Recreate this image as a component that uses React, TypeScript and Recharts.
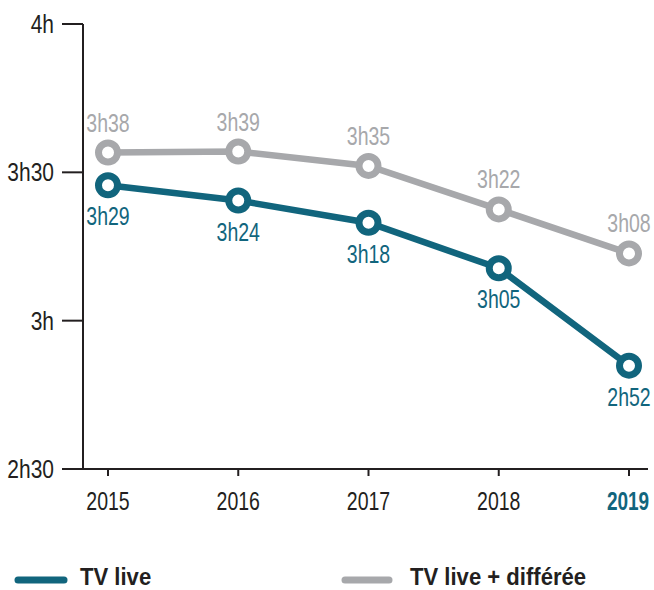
import React from 'react';
import { LineChart, Line, XAxis, YAxis, LabelList } from 'recharts';

const years = ['2015', '2016', '2017', '2018', '2019'];
// minutes per day
const liveMinutes = [207.4, 204.3, 199.8, 190.6, 170.9];
const liveDiffMinutes = [214.0, 214.2, 211.3, 202.5, 193.6];
const liveLabels = ['3h29', '3h24', '3h18', '3h05', '2h52'];
const liveDiffLabels = ['3h38', '3h39', '3h35', '3h22', '3h08'];
const yTicks = [150, 180, 210, 240];
const yTickLabels = ['2h30', '3h', '3h30', '4h'];

const TEAL = '#11657D';
const GREY = '#A7A8AB';
const INK = '#231F20';
const FONT = "'Liberation Sans', Arial, sans-serif";

const data = years.map((year, i) => ({
    year,
    live: liveMinutes[i],
    liveDiff: liveDiffMinutes[i],
    liveLabel: liveLabels[i],
    liveDiffLabel: liveDiffLabels[i],
}));

// condensed look: squeeze a regular face horizontally
const NarrowText = ({ x, y, anchor = 'middle', sx = 0.78, size = 25, weight = 'normal', color = INK, dy, children }: any) => (
    <g transform={`translate(${x},${y}) scale(${sx},1)`}>
        <text x={0} y={0} dy={dy} textAnchor={anchor} fontSize={size} fontWeight={weight} fontFamily={FONT} fill={color}>
            {children}
        </text>
    </g>
);

const makeDot = (color: string) => (props: any) => {
    const { cx, cy, index } = props;
    return <circle key={`dot-${color}-${index}`} cx={cx} cy={cy} r={9.5} fill="#fff" stroke={color} strokeWidth={7} />;
};

const makeLabel = (color: string, dy: number) => (props: any) => {
    const { x, y, value, index } = props;
    return (
        <NarrowText key={`lbl-${color}-${index}`} x={x} y={y + dy} color={color}>
            {value}
        </NarrowText>
    );
};

const YearTick = (props: any) => {
    const { x, y, payload } = props;
    const last = payload.value === years[years.length - 1];
    return (
        <NarrowText
            x={last ? x - 1 : x}
            y={y + 34}
            sx={last ? 0.76 : 0.78}
            weight={last ? 'bold' : 'normal'}
            color={last ? TEAL : INK}
        >
            {payload.value}
        </NarrowText>
    );
};

const HourTick = (props: any) => {
    const { x, y, payload } = props;
    return (
        <NarrowText x={x} y={y} anchor="end" dy="0.355em" sx={0.84}>
            {yTickLabels[yTicks.indexOf(payload.value)]}
        </NarrowText>
    );
};

export default function App() {
    return (
        <div style={{ position: 'absolute', left: 0, top: 0, width: 654, height: 590, background: '#fff' }}>
            <LineChart width={654} height={590} data={data} margin={{ top: 24, right: 6, bottom: 91, left: 0 }}>
                <XAxis
                    dataKey="year"
                    height={30}
                    padding={{ left: 25, right: 19 }}
                    axisLine={{ stroke: INK, strokeWidth: 2 }}
                    tickLine={{ stroke: INK, strokeWidth: 2 }}
                    tickSize={7}
                    tickMargin={0}
                    tick={<YearTick />}
                    interval={0}
                />
                <YAxis
                    width={83}
                    domain={[150, 240]}
                    ticks={yTicks}
                    axisLine={{ stroke: INK, strokeWidth: 2 }}
                    tickLine={{ stroke: INK, strokeWidth: 2 }}
                    tickSize={21}
                    tickMargin={8}
                    tick={<HourTick />}
                    allowDataOverflow
                />
                <Line
                    dataKey="liveDiff"
                    stroke={GREY}
                    strokeWidth={6.5}
                    dot={makeDot(GREY)}
                    activeDot={false}
                    isAnimationActive={false}
                >
                    <LabelList dataKey="liveDiffLabel" content={makeLabel(GREY, -21)} />
                </Line>
                <Line
                    dataKey="live"
                    stroke={TEAL}
                    strokeWidth={6.5}
                    dot={makeDot(TEAL)}
                    activeDot={false}
                    isAnimationActive={false}
                >
                    <LabelList dataKey="liveLabel" content={makeLabel(TEAL, 40)} />
                </Line>
            </LineChart>
            <svg width={654} height={40} style={{ position: 'absolute', left: 0, top: 550 }}>
                <line x1={18} y1={30} x2={64} y2={30} stroke={TEAL} strokeWidth={7} strokeLinecap="round" />
                <NarrowText x={80} y={35} anchor="start" sx={0.94} size={23.5} weight="bold">TV live</NarrowText>
                <line x1={345} y1={30} x2={389} y2={30} stroke={GREY} strokeWidth={7} strokeLinecap="round" />
                <NarrowText x={410} y={35} anchor="start" sx={0.94} size={23.5} weight="bold">TV live + différée</NarrowText>
            </svg>
        </div>
    );
}
